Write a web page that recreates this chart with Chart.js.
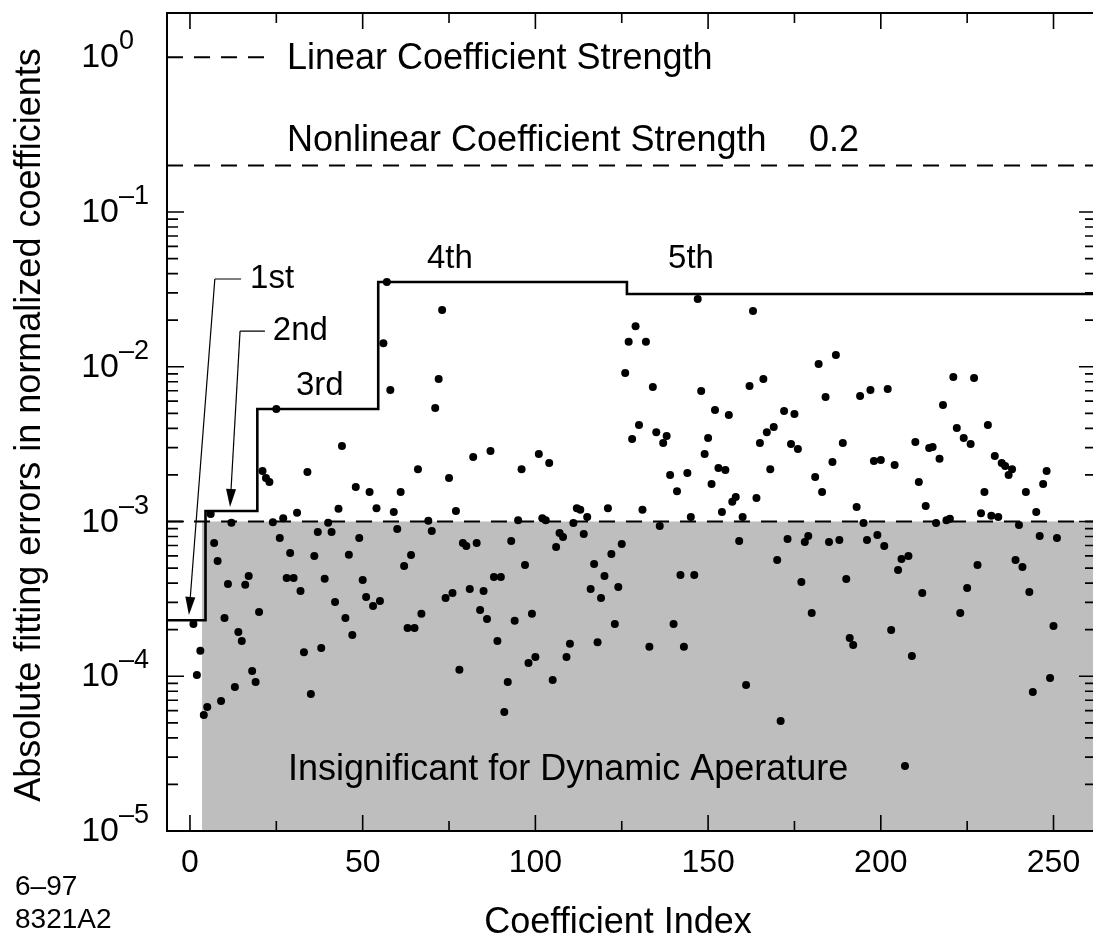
<!DOCTYPE html>
<html>
<head>
<meta charset="utf-8">
<script src="https://cdn.jsdelivr.net/npm/chart.js@4.4.1/dist/chart.umd.min.js"></script>
<style>
  html, body { margin: 0; padding: 0; background: #fff; overflow: hidden; }
  #wrap { width: 1093px; height: 935px; overflow: hidden; }
</style>
</head>
<body>
<div id="wrap"><canvas id="fitChart" width="1100" height="935"></canvas></div>
<script>
// absolute fitting error per coefficient, position in array = coefficient index
// (null where no point is plotted)
const fitError = [
  null, 2.18e-4, 1.02e-4, 1.46e-4, 5.62e-5, 6.33e-5, 1.12e-3, 7.26e-4, 5.56e-4, 6.92e-5,
  2.38e-4, 3.95e-4, 9.8e-4, 8.52e-5, 1.93e-4, 1.69e-4, 3.9e-4, 4.44e-4, 1.08e-4, 9.18e-5,
  2.6e-4, 2.12e-3, 1.91e-3, 1.8e-3, 9.9e-4, 5.33e-3, 7.82e-4, 1.05e-3, 4.31e-4, 6.26e-4,
  4.31e-4, 1.14e-3, 3.56e-4, 1.43e-4, 2.09e-3, 7.68e-5, 5.98e-4, 8.55e-4, 1.52e-4, 4.27e-4,
  9.8e-4, 8.55e-4, 3.02e-4, 1.21e-3, 3.08e-3, 2.38e-4, 6.1e-4, 1.85e-4, 1.67e-3, 7.82e-4,
  4.19e-4, 3.25e-4, 1.55e-3, 2.84e-4, 1.22e-3, 3.06e-4, 1.42e-2, 3.53e-2, 7.08e-3, 1.15e-3,
  8.94e-4, 1.55e-3, 5.16e-4, 2.05e-4, 6.08e-4, 2.05e-4, 2.18e-3, 2.53e-4, null, 1.01e-3,
  8.68e-4, 5.41e-3, 8.34e-3, 2.33e-2, 3.2e-4, 1.91e-3, 3.45e-4, 1.17e-3, 1.1e-4, 7.26e-4,
  6.95e-4, 3.66e-4, 2.61e-3, 7.26e-4, 2.68e-4, 3.56e-4, 2.34e-4, 2.86e-3, 4.38e-4, 1.69e-4,
  4.38e-4, 5.87e-5, 9.18e-5, 7.48e-4, 2.28e-4, 1.02e-3, 2.18e-3, 5.24e-4, 1.22e-4, 2.53e-4,
  1.33e-4, 2.73e-3, 1.05e-3, 1.02e-3, 2.39e-3, 9.46e-5, 6.84e-4, 8.43e-4, 7.94e-4, 1.33e-4,
  1.62e-4, 9.78e-4, 1.22e-3, 1.19e-3, 8.3e-4, 1.07e-3, 3.66e-4, 5.31e-4, 1.66e-4, 3.2e-4,
  4.44e-4, 1.22e-3, 6.17e-4, 2.18e-4, 3.78e-4, 7.16e-4, 9.12e-3, 1.45e-2, 3.41e-3, 1.83e-2,
  4.21e-3, 1.19e-3, 1.45e-2, 1.55e-4, 7.4e-3, 3.78e-3, 9.35e-4, 3.21e-3, 3.57e-3, 2.0e-3,
  2.18e-4, 1.57e-3, 4.51e-4, 1.55e-4, 2.06e-3, 1.07e-3, 4.51e-4, 2.74e-2, 6.97e-3, 2.73e-3,
  3.47e-3, 1.75e-3, 5.25e-3, 2.22e-3, 1.15e-3, 2.15e-3, 4.88e-3, 1.34e-3, 1.44e-3, 7.48e-4,
  1.07e-3, 8.78e-5, 7.52e-3, 2.29e-2, 1.42e-3, 3.21e-3, 8.34e-3, 3.78e-3, 2.18e-3, 4.08e-3,
  5.64e-4, 5.14e-5, 5.18e-3, 7.71e-4, 3.17e-3, 4.95e-3, 2.94e-3, 4.06e-4, 7.37e-4, 8.06e-4,
  2.56e-4, 1.94e-3, 1.04e-2, 1.55e-3, 6.38e-3, 7.37e-4, 2.42e-3, 1.19e-2, 7.59e-4, 3.21e-3,
  4.25e-4, 1.77e-4, 1.59e-4, 1.24e-3, 6.47e-3, 9.78e-4, 7.59e-4, 7.08e-3, 2.46e-3, 8.18e-4,
  2.5e-3, 6.95e-4, 7.18e-3, 1.99e-4, 2.32e-3, 4.86e-4, 5.72e-4, 2.63e-5, 5.98e-4, 1.35e-4,
  3.26e-3, 1.8e-3, 3.45e-4, 1.26e-3, 2.99e-3, 3.03e-3, 9.78e-4, 2.54e-3, 5.66e-3, 1.02e-3,
  1.04e-3, 8.59e-3, 4.02e-3, 2.56e-4, 3.47e-3, 3.72e-4, 3.17e-3, 8.46e-3, 5.24e-4, 1.13e-3,
  1.55e-3, 4.21e-3, 1.09e-3, 2.65e-3, 1.07e-3, 2.39e-3, 2.28e-3, 2.0e-3, 2.18e-3, 5.64e-4,
  9.5e-4, 5.08e-4, 1.55e-3, 3.5e-4, 7.91e-5, 1.15e-3, 8.06e-4, 1.75e-3, 2.12e-3, 9.75e-5,
  2.11e-4, 7.82e-4
];

// staircase of the largest error in each order (index where the order starts)
const orderStart = [-6.65, 4.5, 19.5, 54.5, 126.5, 262.3];
const orderMax   = [2.3e-4, 1.17e-3, 5.33e-3, 3.53e-2, 2.95e-2, 2.95e-2];
const orderNames = ['1st', '2nd', '3rd', '4th', '5th'];

// reference strengths
const linearStrength = 1;
const nonlinearStrength = 0.2;
const threshold = 1e-3;

// axes
const xMin = -6.65, xMax = 262.3;
const yMin = 1e-5, yMax = 1.932;
const xTicks = [0, 50, 100, 150, 200, 250];
const xMinorTicks = [25, 75, 125, 175, 225];
const yDecades = [-5, -4, -3, -2, -1, 0];

const FONT = '"Liberation Sans", Arial, Helvetica, sans-serif';

const points = [];
fitError.forEach((v, i) => { if (v !== null) points.push({ x: i, y: v }); });

const steps = orderStart.map((x, i) => ({ x: x, y: orderMax[i] }));

function arrow(ctx, x0, y0, x1, y1) {
  const ang = Math.atan2(y1 - y0, x1 - x0);
  const len = 18, hw = 5;
  const bx = x1 - len * Math.cos(ang), by = y1 - len * Math.sin(ang);
  ctx.beginPath();
  ctx.moveTo(x0, y0);
  ctx.lineTo(bx, by);
  ctx.stroke();
  ctx.beginPath();
  ctx.moveTo(x1, y1);
  ctx.lineTo(bx + hw * Math.sin(ang), by - hw * Math.cos(ang));
  ctx.lineTo(bx - hw * Math.sin(ang), by + hw * Math.cos(ang));
  ctx.closePath();
  ctx.fill();
}

// frame, inward ticks, tick labels and annotations
const framePlugin = {
  id: 'framePlugin',
  afterDraw(chart) {
    const { ctx, chartArea: a, scales } = chart;
    const px = v => scales.x.getPixelForValue(v);
    const py = v => scales.y.getPixelForValue(v);
    ctx.save();
    ctx.strokeStyle = '#000';
    ctx.fillStyle = '#000';

    ctx.lineWidth = 2;
    ctx.strokeRect(a.left, a.top, a.right - a.left, a.bottom - a.top);

    ctx.lineWidth = 1.6;
    ctx.beginPath();
    xTicks.forEach(t => {
      const X = px(t);
      ctx.moveTo(X, a.bottom); ctx.lineTo(X, a.bottom - 16);
      ctx.moveTo(X, a.top); ctx.lineTo(X, a.top + 16);
    });
    xMinorTicks.forEach(t => {
      const X = px(t);
      ctx.moveTo(X, a.bottom); ctx.lineTo(X, a.bottom - 10);
      ctx.moveTo(X, a.top); ctx.lineTo(X, a.top + 10);
    });
    yDecades.forEach(d => {
      if (d > -1) return;
      const Y = py(Math.pow(10, d));
      ctx.moveTo(a.left, Y); ctx.lineTo(a.left + 17, Y);
      ctx.moveTo(a.right, Y); ctx.lineTo(a.right - 17, Y);
      if (d >= -1) return;
      for (let k = 2; k <= 9; k++) {
        const Ym = py(k * Math.pow(10, d));
        ctx.moveTo(a.left, Ym); ctx.lineTo(a.left + 11, Ym);
        ctx.moveTo(a.right, Ym); ctx.lineTo(a.right - 11, Ym);
      }
    });
    ctx.stroke();

    // x tick labels
    ctx.font = '32px ' + FONT;
    ctx.textAlign = 'center';
    ctx.textBaseline = 'alphabetic';
    xTicks.forEach(t => ctx.fillText(String(t), px(t), a.bottom + 41));

    // y tick labels as powers of ten
    yDecades.forEach(d => {
      const Y = py(Math.pow(10, d));
      ctx.font = '34px ' + FONT;
      ctx.textAlign = 'right';
      ctx.fillText('10', 119, Y + 10);
      ctx.font = '27px ' + FONT;
      ctx.textAlign = 'left';
      ctx.fillText(d === 0 ? '0' : '\u2013' + (-d), 119, Y - 8);
    });

    // axis titles
    ctx.font = '36px ' + FONT;
    ctx.textAlign = 'center';
    ctx.fillText('Coefficient Index', 618, 933);
    ctx.save();
    ctx.translate(40, 425);
    ctx.rotate(-Math.PI / 2);
    ctx.fillText('Absolute fitting errors in normalized coefficients', 0, 0);
    ctx.restore();

    // reference lines text
    ctx.textAlign = 'left';
    ctx.fillText('Linear Coefficient Strength', 287, py(linearStrength) + 12);
    ctx.fillText('Nonlinear Coefficient Strength', 287, py(nonlinearStrength) - 14);
    ctx.fillText(String(nonlinearStrength), 809, py(nonlinearStrength) - 14);
    ctx.fillText('Insignificant for Dynamic Aperature', px(28.4), py(2.14e-5));

    // order labels
    ctx.font = '33px ' + FONT;
    ctx.fillText(orderNames[0], px(17.4), py(0.0323));
    ctx.fillText(orderNames[1], px(24.0), py(0.0149));
    ctx.fillText(orderNames[2], px(30.7), py(6.56e-3));
    ctx.fillText(orderNames[3], px(68.6), py(0.0435));
    ctx.fillText(orderNames[4], px(138.4), py(0.0435));

    // leaders with arrows to the 1st and 2nd order levels
    ctx.lineWidth = 1.2;
    ctx.beginPath();
    ctx.moveTo(px(14.8), py(0.0369)); ctx.lineTo(px(7.2), py(0.0369));
    ctx.moveTo(px(21.7), py(0.017)); ctx.lineTo(px(14.5), py(0.017));
    ctx.stroke();
    arrow(ctx, px(7.2), py(0.0369), px(-0.3), py(2.49e-4));
    arrow(ctx, px(14.5), py(0.017), px(11.6), py(1.24e-3));

    // figure id
    ctx.font = '28px ' + FONT;
    ctx.fillText('6\u201397', 15, 895);
    ctx.fillText('8321A2', 15, 928);
    ctx.restore();
  }
};

new Chart(document.getElementById('fitChart'), {
  type: 'scatter',
  data: {
    datasets: [
      {
        label: 'fitting error',
        data: points,
        pointRadius: 4,
        pointBackgroundColor: '#000',
        pointBorderWidth: 0,
        showLine: false,
        order: 1
      },
      {
        label: 'order maximum',
        data: steps,
        showLine: true,
        stepped: true,
        borderColor: '#000',
        borderWidth: 2.6,
        pointRadius: 0,
        order: 2
      },
      {
        label: 'threshold',
        data: [{ x: xMin, y: threshold }, { x: xMax, y: threshold }],
        showLine: true,
        borderColor: '#000',
        borderWidth: 2,
        borderDash: [16, 11],
        pointRadius: 0,
        order: 3
      },
      {
        label: 'nonlinear strength',
        data: [{ x: xMin, y: nonlinearStrength }, { x: xMax, y: nonlinearStrength }],
        showLine: true,
        borderColor: '#000',
        borderWidth: 2,
        borderDash: [16, 11],
        pointRadius: 0,
        order: 3
      },
      {
        label: 'linear strength',
        data: [{ x: xMin, y: linearStrength }, { x: 23, y: linearStrength }],
        showLine: true,
        borderColor: '#000',
        borderWidth: 2,
        borderDash: [16, 11],
        pointRadius: 0,
        order: 3
      },
      {
        label: 'insignificant region',
        data: [{ x: 3.5, y: threshold }, { x: xMax, y: threshold }],
        showLine: true,
        fill: 'start',
        backgroundColor: '#bebebe',
        borderWidth: 0,
        pointRadius: 0,
        order: 9
      }
    ]
  },
  options: {
    responsive: false,
    animation: false,
    layout: { padding: { left: 167, right: 4, top: 13, bottom: 104 } },
    plugins: { legend: { display: false }, tooltip: { enabled: false } },
    scales: {
      x: { type: 'linear', min: xMin, max: xMax, display: false },
      y: { type: 'logarithmic', min: yMin, max: yMax, bounds: 'data', display: false }
    }
  },
  plugins: [framePlugin]
});
</script>
</body>
</html>
